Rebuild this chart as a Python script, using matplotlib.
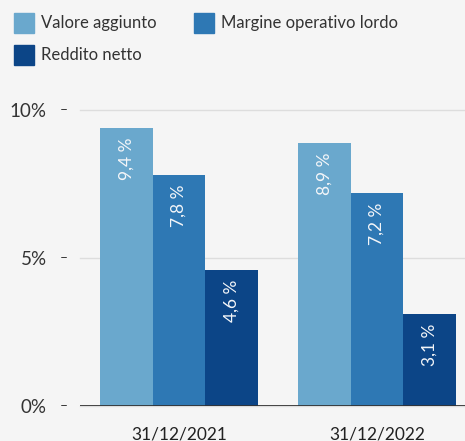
import matplotlib
matplotlib.use("Agg")
import matplotlib.pyplot as plt
from matplotlib.patches import Rectangle
import numpy as np

plt.rcParams['font.family'] = ['Lato', 'DejaVu Sans']

categories = ["31/12/2021", "31/12/2022"]
series_names = ["Valore aggiunto", "Margine operativo lordo", "Reddito netto"]
valore_aggiunto = [9.4, 8.9]
margine_operativo = [7.8, 7.2]
reddito_netto = [4.6, 3.1]
series_values = [valore_aggiunto, margine_operativo, reddito_netto]
colors = ["#6aa8cd", "#2e78b4", "#0c4587"]
y_ticks = [0, 5, 10]
y_tick_labels = ["0%", "5%", "10%"]

W, H = 465, 441
bg = "#f5f5f5"
fig = plt.figure(figsize=(W / 100, H / 100), dpi=100, facecolor=bg)

ax_left, ax_right = 80, 465
ax_top, ax_bottom = 110, 406
ax = fig.add_axes([ax_left / W, 1 - ax_bottom / H, (ax_right - ax_left) / W, (ax_bottom - ax_top) / H])
ax.set_facecolor(bg)

x = np.arange(len(categories))
bw = 0.266
for i, (vals, col) in enumerate(zip(series_values, colors)):
    pos = x + (i - 1) * bw
    ax.bar(pos, vals, width=bw, color=col, zorder=3, linewidth=0)
    for p, v in zip(pos, vals):
        ax.annotate(f"{v:.1f} %".replace(".", ","), xy=(p, v), xytext=(0, -7),
                    textcoords="offset points", rotation=90, ha="center", va="top",
                    color="#f4f6f9", fontsize=12.5, zorder=4)

ax.set_xlim(-0.5, 1.444)
ax.set_ylim(0, 10)
ax.set_yticks(y_ticks)
ax.set_yticklabels(y_tick_labels)
ax.tick_params(axis="y", length=0, pad=24, labelsize=13.5, labelcolor="#333333")
ax.set_xticks(x)
ax.set_xticklabels(categories)
ax.tick_params(axis="x", length=0, pad=15, labelsize=12.5, labelcolor="#222222")
for t in y_ticks:
    ax.axhline(t, color="#dddddd", linewidth=1, zorder=1, clip_on=False)
    ax.annotate("–", xy=(0, t), xycoords=("axes fraction", "data"), xytext=(-11.5, 0),
                textcoords="offset points", ha="center", va="center", fontsize=10, color="#333333")
ax.axhline(0, color="#333333", linewidth=2, zorder=5)
for s in ax.spines.values():
    s.set_visible(False)

# legend
leg_pos = [(14, 13), (194, 13), (14, 45)]
for (lx, ly), name, col in zip(leg_pos, series_names, colors):
    fig.patches.append(Rectangle((lx / W, 1 - (ly + 20) / H), 20 / W, 20 / H,
                                 transform=fig.transFigure, color=col))
    fig.text((lx + 27) / W, 1 - (ly + 10) / H, name, ha="left", va="center",
             fontsize=12, color="#333333")

fig.savefig("out.png", dpi=100, facecolor=bg)
